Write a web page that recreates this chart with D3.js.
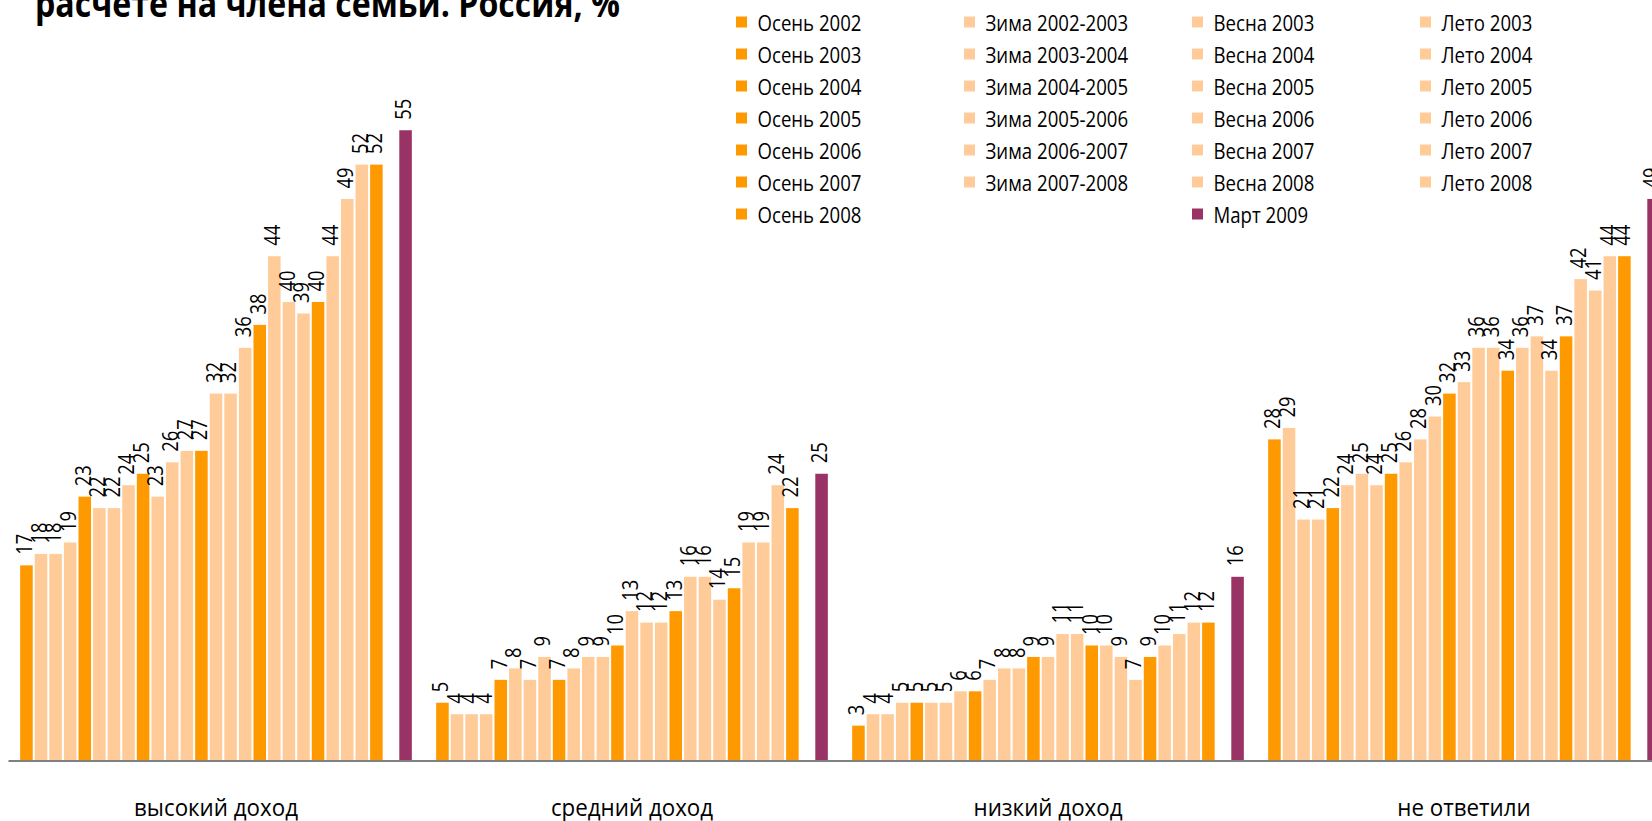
<!DOCTYPE html>
<html>
<head>
<meta charset="utf-8">
<style>
  body {margin: 0; background: #fff; font-family: "Open Sans", sans-serif;}
  svg {display: block;}
</style>
<script src="https://d3js.org/d3.v7.min.js"></script>
</head>
<body>
<div id="chart"></div>
<script>

const groups = ['высокий доход', 'средний доход', 'низкий доход', 'не ответили']

// 25 survey waves + March 2009
const periods = [
  'Осень 2002', 'Зима 2002-2003', 'Весна 2003', 'Лето 2003',
  'Осень 2003', 'Зима 2003-2004', 'Весна 2004', 'Лето 2004',
  'Осень 2004', 'Зима 2004-2005', 'Весна 2005', 'Лето 2005',
  'Осень 2005', 'Зима 2005-2006', 'Весна 2006', 'Лето 2006',
  'Осень 2006', 'Зима 2006-2007', 'Весна 2007', 'Лето 2007',
  'Осень 2007', 'Зима 2007-2008', 'Весна 2008', 'Лето 2008',
  'Осень 2008', 'Март 2009'
]

const highIncome   = [17, 18, 18, 19, 23, 22, 22, 24, 25, 23, 26, 27, 27, 32, 32, 36, 38, 44, 40, 39, 40, 44, 49, 52, 52, 55]
const middleIncome = [5, 4, 4, 4, 7, 8, 7, 9, 7, 8, 9, 9, 10, 13, 12, 12, 13, 16, 16, 14, 15, 19, 19, 24, 22, 25]
const lowIncome    = [3, 4, 4, 5, 5, 5, 5, 6, 6, 7, 8, 8, 9, 9, 11, 11, 10, 10, 9, 7, 9, 10, 11, 12, 12, 16]
const noAnswer     = [28, 29, 21, 21, 22, 24, 25, 24, 25, 26, 28, 30, 32, 33, 36, 36, 34, 36, 37, 34, 37, 42, 41, 44, 44, 49]

const values = [highIncome, middleIncome, lowIncome, noAnswer]

const width = 1652
const height = 821

const svg = d3.select('#chart').append('svg')
  .attr('width', width)
  .attr('height', height)

const season = p => p.split(' ')[0]

const color = d3.scaleOrdinal()
  .domain(['Осень', 'Зима', 'Весна', 'Лето', 'Март'])
  .range(['#ff9900', '#ffcc99', '#ffcc99', '#ffcc99', '#993366'])

// empty slot between autumn 2008 and march 2009
const slots = periods.slice(0, 25).concat(['gap', periods[25]])

const x0 = d3.scaleBand()
  .domain(groups)
  .range([8, 1672])
  .paddingInner(0.0536)
  .paddingOuter(0.0268)

const x1 = d3.scaleBand()
  .domain(slots)
  .range([0, x0.bandwidth()])
  .paddingInner(0.14)
  .paddingOuter(0.07)

const y = d3.scaleLinear()
  .domain([0, 60])
  .range([760, 73])

const rows = groups.flatMap((g, gi) => periods.map((p, pi) => ({group: g, period: p, value: values[gi][pi]})))

// squeeze text to a narrower look, like the condensed font of the original
function squeeze(sel, ratio) {
  sel.each(function() {
    const w = this.getComputedTextLength()
    d3.select(this).attr('textLength', w * ratio).attr('lengthAdjust', 'spacingAndGlyphs')
  })
}

svg.append('g')
  .selectAll('rect')
  .data(rows)
  .enter().append('rect')
    .attr('x', d => x0(d.group) + x1(d.period))
    .attr('y', d => y(d.value))
    .attr('width', x1.bandwidth())
    .attr('height', d => y(0) - y(d.value))
    .attr('fill', d => color(season(d.period)))

const valueLabels = svg.append('g')
  .selectAll('text')
  .data(rows)
  .enter().append('text')
    .attr('transform', d => 'translate(' + (x0(d.group) + x1(d.period) + x1.bandwidth() - 0.5) + ',' + (y(d.value) - 10.5) + ') rotate(-90)')
    .style('font-size', '21px')
    .style('fill', '#000')
    .text(d => d.value)

const valW = valueLabels.filter(d => d.value === 55).node().getComputedTextLength()
squeeze(valueLabels, 21 / valW)

const axis = svg.append('g')
  .attr('transform', 'translate(0,' + 760.5 + ')')
  .call(d3.axisBottom(x0).tickSize(0).tickSizeOuter(0))

axis.select('.domain').attr('stroke', '#000')
const catLabels = axis.selectAll('text')
  .attr('y', 55)
  .attr('dy', null)
  .style('font-family', '"Open Sans", sans-serif')
  .style('font-size', '24px')
  .style('fill', '#000')

const catW = catLabels.filter(d => d === groups[0]).node().getComputedTextLength()
squeeze(catLabels, 164 / catW)

// legend: one column per season, March 2009 goes under spring
const legendCol = {'Осень': 0, 'Зима': 1, 'Весна': 2, 'Лето': 3, 'Март': 2}
const colCount = [0, 0, 0, 0]
const legendItems = periods.map(p => {
  const col = legendCol[season(p)]
  const row = colCount[col]++
  return {period: p, col: col, row: row}
})

const legend = svg.append('g')
  .selectAll('g')
  .data(legendItems)
  .enter().append('g')
    .attr('transform', d => 'translate(' + (736 + d.col * 228) + ',' + (22 + d.row * 32) + ')')

legend.append('rect')
  .attr('x', 0)
  .attr('y', -5.5)
  .attr('width', 11)
  .attr('height', 11)
  .attr('fill', d => color(season(d.period)))

const legendText = legend.append('text')
  .attr('x', 21.5)
  .attr('y', 8.5)
  .style('font-size', '22px')
  .style('fill', '#000')
  .text(d => d.period)

const legW = legendText.filter(d => d.period === periods[0]).node().getComputedTextLength()
squeeze(legendText, 104 / legW)

const title = svg.append('text')
  .attr('x', 35)
  .attr('y', 17)
  .style('font-size', '37px')
  .style('font-weight', 'bold')
  .style('fill', '#000')
  .text('расчете на члена семьи. Россия, %')

squeeze(title, 585 / title.node().getComputedTextLength())

</script>
</body>
</html>
